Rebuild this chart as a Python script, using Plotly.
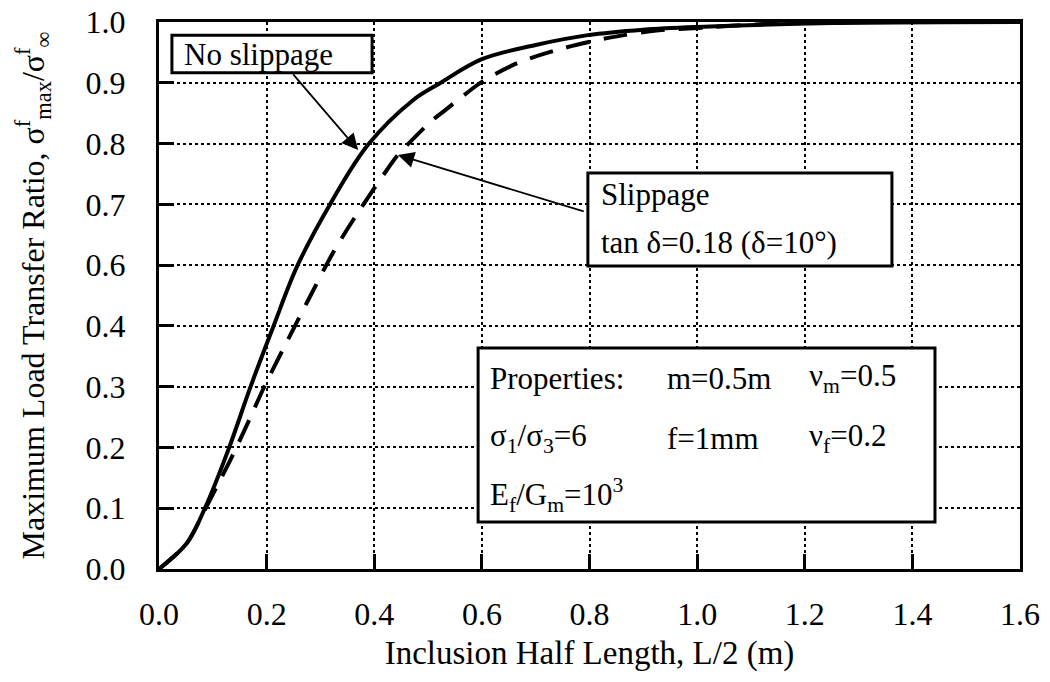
import plotly.graph_objects as go

# ---- data (y in axis-fraction units: each grid step = 1/9) ----
x_no_slip = [0.0, 0.052, 0.0855, 0.130, 0.170, 0.212, 0.257, 0.318, 0.388, 0.472,
             0.522, 0.600, 0.700, 0.797, 0.900, 1.0, 1.251, 1.6]
y_no_slip = [0.0, 0.0475, 0.1115, 0.221, 0.333, 0.442, 0.554, 0.667, 0.775, 0.857,
             0.888, 0.932, 0.958, 0.976, 0.986, 0.991, 0.998, 1.0]

x_slip = [0.0, 0.052, 0.082, 0.107, 0.132, 0.160, 0.197, 0.240, 0.279, 0.325, 0.374,
          0.431, 0.444, 0.504, 0.532, 0.589, 0.612, 0.671, 0.751, 0.835, 0.920, 1.002,
          1.117, 1.284, 1.6]
y_slip = [0.0, 0.0475, 0.102, 0.150, 0.198, 0.256, 0.336, 0.420, 0.495, 0.581, 0.658,
          0.740, 0.757, 0.817, 0.839, 0.883, 0.898, 0.927, 0.952, 0.971, 0.984, 0.989,
          0.996, 1.0, 1.0]

x_tick_vals = [0.0, 0.2, 0.4, 0.6, 0.8, 1.0, 1.2, 1.4, 1.6]
x_tick_text = ["0.0", "0.2", "0.4", "0.6", "0.8", "1.0", "1.2", "1.4", "1.6"]
y_tick_text = ["0.0", "0.1", "0.2", "0.3", "0.4", "0.6", "0.7", "0.8", "0.9", "1.0"]
y_tick_vals = [i / 9 for i in range(len(y_tick_text))]

FONT = "Liberation Serif"
FS = 31

fig = go.Figure()
fig.add_trace(go.Scatter(x=x_no_slip, y=y_no_slip, mode="lines",
                         line=dict(color="black", width=4, shape="spline", smoothing=1.0),
                         showlegend=False, hoverinfo="skip"))
fig.add_trace(go.Scatter(x=x_slip, y=y_slip, mode="lines",
                         line=dict(color="black", width=4, dash="24px,14px",
                                   shape="spline", smoothing=0.8),
                         showlegend=False, hoverinfo="skip"))

shapes = []
def box(x0, x1, y0, y1):
    shapes.append(dict(type="rect", xref="x", yref="y", x0=x0, x1=x1, y0=y0, y1=y1,
                       line=dict(color="black", width=3), fillcolor="white", layer="above"))

box(0.024, 0.396, 0.907, 0.976)
box(0.797, 1.362, 0.554, 0.724)
box(0.593, 1.442, 0.086, 0.404)

ann = []
def txt(x, y, s):
    ann.append(dict(x=x, y=y, xref="x", yref="y", text=s, showarrow=False,
                    xanchor="left", yanchor="middle",
                    font=dict(family=FONT, size=FS, color="black")))

txt(0.043, 0.941, "No slippage")
txt(0.818, 0.684, "Slippage")
txt(0.818, 0.596, "tan δ=0.18 (δ=10°)")
txt(0.612, 0.349, "Properties:")
txt(0.940, 0.349, "m=0.5m")
txt(1.204, 0.349, "ν<sub>m</sub>=0.5")
txt(0.612, 0.239, "σ<sub>1</sub>/σ<sub>3</sub>=6")
txt(0.940, 0.239, "f=1mm")
txt(1.204, 0.239, "ν<sub>f</sub>=0.2")
txt(0.612, 0.135, "E<sub>f</sub>/G<sub>m</sub>=10<sup>3</sup>")

def arrow(xt, yt, xh, yh):
    ann.append(dict(x=xh, y=yh, ax=xt, ay=yt, xref="x", yref="y", axref="x", ayref="y",
                    text="", showarrow=True, arrowhead=2, arrowsize=1.8, arrowwidth=1.8,
                    arrowcolor="black", standoff=0, startstandoff=0))

arrow(0.247, 0.907, 0.370, 0.766)
arrow(0.792, 0.653, 0.444, 0.757)

axis_common = dict(showline=True, linecolor="black", linewidth=3, mirror=True,
                   showgrid=True, gridcolor="black", gridwidth=1.5, griddash="dot",
                   ticks="inside", ticklen=15, tickwidth=2.5, tickcolor="black",
                   zeroline=False,
                   tickfont=dict(family=FONT, size=FS + 1, color="black"))

fig.update_xaxes(range=[0, 1.6], tickvals=x_tick_vals, ticktext=x_tick_text,
                 ticklabelstandoff=15,
                 title=dict(text="Inclusion Half Length, L/2 (m)",
                            font=dict(family=FONT, size=FS + 2, color="black"), standoff=10),
                 **axis_common)
fig.update_yaxes(range=[0, 1], tickvals=y_tick_vals, ticktext=y_tick_text,
                 ticklabelstandoff=24,
                 title=dict(text="Maximum Load Transfer Ratio, σ<sup>f</sup><sub>max</sub>/σ<sup>f</sup><sub>∞</sub>",
                            font=dict(family=FONT, size=FS + 1, color="black"), standoff=32),
                 **axis_common)

fig.update_layout(width=1050, height=682, autosize=False,
                  margin=dict(l=159, r=30, t=22, b=113, autoexpand=False),
                  paper_bgcolor="white", plot_bgcolor="white",
                  shapes=shapes, annotations=ann,
                  font=dict(family=FONT, color="black"))

fig.write_html("out.html", config={"displayModeBar": False})
